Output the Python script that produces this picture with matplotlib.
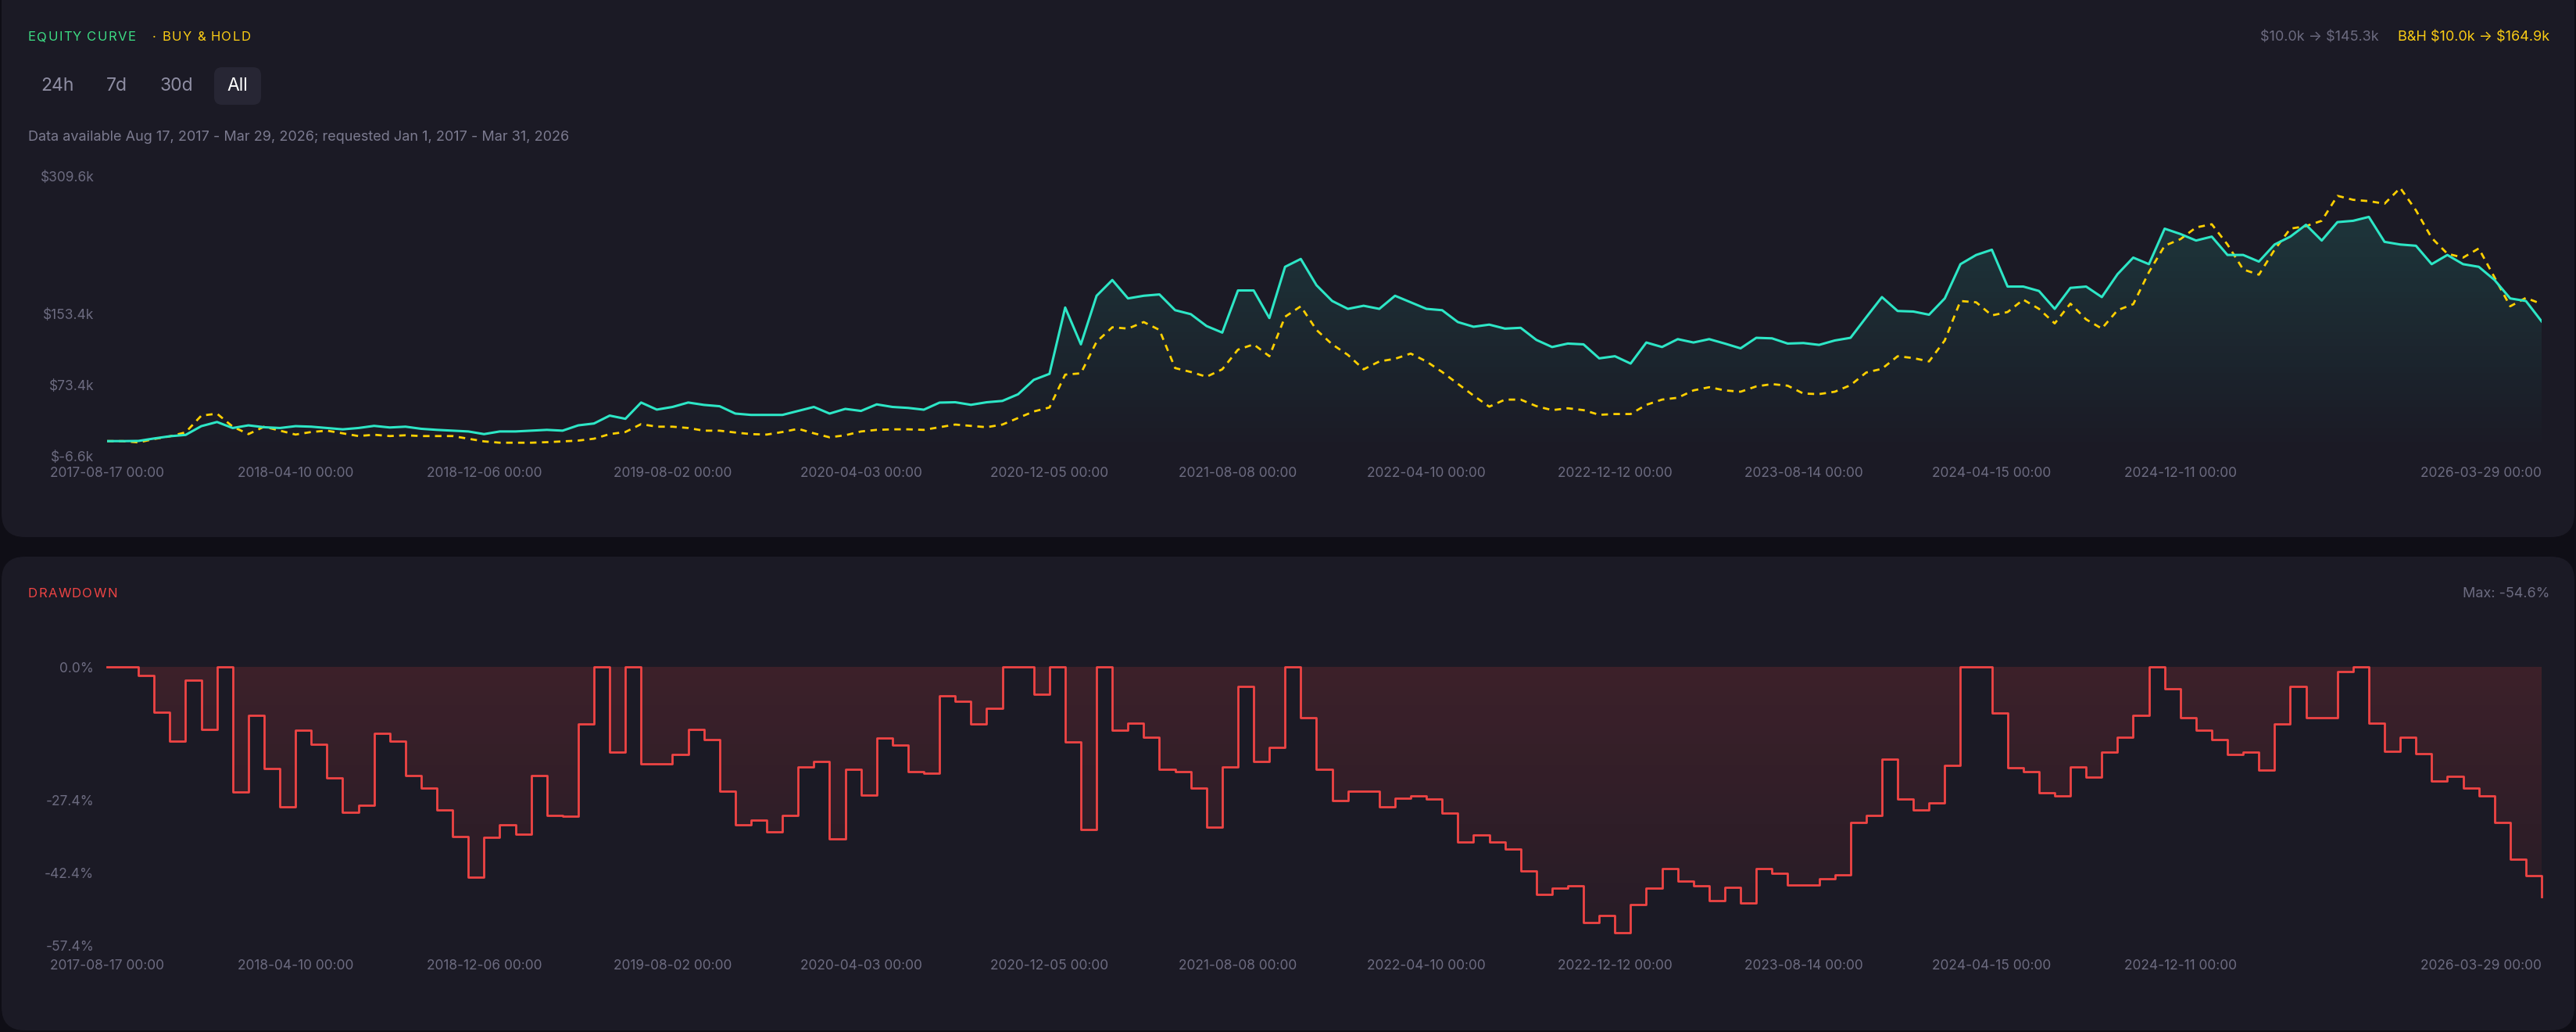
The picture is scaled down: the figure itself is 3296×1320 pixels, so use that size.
import numpy as np
import matplotlib.pyplot as plt
from matplotlib.patches import FancyBboxPatch

plt.rcParams['font.family'] = ['Inter', 'DejaVu Sans']

# x labels shown under both panels (every 12th sample, plus the last one)
tick_dates = ['2017-08-17 00:00', '2018-04-10 00:00', '2018-12-06 00:00', '2019-08-02 00:00',
              '2020-04-03 00:00', '2020-12-05 00:00', '2021-08-08 00:00', '2022-04-10 00:00',
              '2022-12-12 00:00', '2023-08-14 00:00', '2024-04-15 00:00', '2024-12-11 00:00',
              '2026-03-29 00:00']

# strategy equity, thousands of $
equity_k = [10.0, 10.0, 10.2, 13.0, 15.5, 17.0, 26.9, 31.6, 24.8, 27.8,
            25.7, 24.8, 26.9, 26.3, 24.8, 23.3, 24.8, 27.2, 25.4, 26.3,
            23.9, 22.7, 21.8, 20.9, 17.9, 20.9, 20.9, 21.8, 22.7, 21.8,
            27.8, 29.9, 38.8, 35.2, 53.6, 45.6, 48.6, 53.6, 50.9, 49.4,
            41.1, 39.6, 39.6, 39.6, 44.1, 48.6, 41.1, 46.4, 44.1, 51.5,
            48.6, 47.5, 45.5, 53.5, 53.9, 51.0, 53.9, 55.4, 62.9, 79.2,
            86.0, 160.9, 119.3, 174.2, 192.0, 171.2, 174.2, 175.7, 157.9, 153.4,
            140.0, 132.6, 180.2, 180.2, 149.0, 206.9, 215.8, 186.1, 168.3, 159.4,
            162.9, 159.4, 174.2, 166.8, 159.4, 157.9, 144.5, 139.2, 141.6, 137.1,
            138.0, 124.3, 116.3, 120.2, 119.3, 103.5, 105.9, 97.6, 121.4, 116.3,
            125.2, 121.4, 125.2, 120.2, 114.8, 126.7, 126.1, 120.2, 120.8, 118.7,
            123.7, 126.7, 149.9, 172.7, 157.0, 156.4, 152.8, 171.2, 209.9, 220.3,
            226.2, 184.6, 184.6, 179.6, 159.4, 183.1, 184.6, 172.7, 198.6, 217.3,
            209.9, 250.0, 244.0, 236.6, 241.0, 220.3, 220.3, 212.8, 232.1, 241.0,
            254.4, 236.6, 257.4, 258.9, 263.3, 235.1, 232.1, 230.7, 209.9, 220.3,
            209.9, 206.9, 192.1, 171.2, 168.3, 145.3]

# buy & hold, thousands of $
buyhold_k = [10.0, 10.0, 8.5, 12.4, 15.4, 19.9, 38.8, 41.0, 26.3, 17.9,
             26.3, 21.8, 17.4, 20.3, 21.8, 18.8, 15.7, 17.2, 15.7, 16.6,
             15.7, 15.7, 15.7, 12.7, 9.7, 8.2, 8.2, 8.2, 8.8, 9.7,
             10.6, 12.7, 17.9, 20.3, 29.2, 26.3, 26.3, 24.8, 21.8, 21.8,
             19.7, 17.9, 17.4, 20.3, 23.9, 18.8, 14.3, 16.6, 20.9, 22.7,
             23.3, 23.3, 22.7, 25.7, 28.7, 27.2, 25.7, 28.7, 36.1, 43.5,
             48.0, 85.1, 86.6, 122.2, 138.6, 137.1, 144.5, 135.6, 92.5, 88.1,
             82.7, 91.1, 113.3, 119.3, 105.9, 150.5, 162.3, 135.6, 119.3, 107.4,
             91.1, 100.0, 103.0, 108.9, 100.0, 88.1, 74.7, 61.4, 48.9, 56.9,
             56.9, 49.5, 45.0, 47.1, 45.0, 39.7, 40.6, 40.6, 51.0, 56.9,
             59.0, 67.3, 70.9, 67.3, 65.8, 71.8, 74.4, 72.6, 63.7, 63.1,
             65.8, 73.2, 87.5, 91.7, 105.9, 103.8, 100.0, 123.7, 168.3, 166.8,
             152.0, 155.8, 169.8, 159.4, 143.0, 165.3, 147.5, 137.1, 157.9, 164.7,
             200.9, 230.7, 238.1, 251.4, 255.0, 232.1, 203.9, 198.0, 226.2, 250.0,
             252.9, 258.9, 287.1, 282.6, 281.1, 278.2, 296.0, 270.7, 239.6, 221.7,
             217.3, 227.7, 195.0, 162.3, 171.8, 164.9]

# drawdown of the strategy, percent
drawdown_pct = [0.0, 0.0, -1.7, -9.4, -15.3, -2.7, -12.8, 0.0, -25.8, -9.9,
                -20.9, -28.7, -13.0, -15.9, -22.9, -29.9, -28.5, -13.6, -15.2, -22.4,
                -25.0, -29.4, -34.9, -43.2, -35.0, -32.5, -34.4, -22.4, -30.6, -30.7,
                -11.8, 0.0, -17.6, 0.0, -20.0, -20.0, -18.0, -12.8, -15.0, -25.5,
                -32.5, -31.5, -34.0, -30.5, -20.5, -19.5, -35.4, -21.0, -26.4, -14.7,
                -16.0, -21.5, -21.9, -6.0, -7.0, -11.7, -8.6, 0.0, 0.0, -5.6,
                0.0, -15.5, -33.4, 0.0, -13.0, -11.5, -14.5, -21.0, -21.5, -25.0,
                -33.0, -20.5, -4.0, -19.5, -16.5, 0.0, -10.5, -21.0, -27.5, -25.5,
                -25.5, -28.8, -27.0, -26.6, -27.1, -30.0, -36.0, -34.5, -36.0, -37.5,
                -42.0, -46.8, -45.5, -45.0, -52.5, -51.2, -54.6, -48.8, -45.5, -41.5,
                -44.0, -45.0, -48.1, -45.3, -48.5, -41.5, -42.5, -44.8, -44.8, -43.5,
                -42.8, -32.0, -30.6, -19.0, -27.2, -29.5, -28.0, -20.2, 0.0, 0.0,
                -9.5, -20.7, -21.5, -25.9, -26.5, -20.5, -22.7, -17.5, -14.5, -10.0,
                0.0, -4.5, -10.5, -13.0, -15.0, -18.0, -17.5, -21.2, -11.8, -4.0,
                -10.5, -10.5, -1.0, 0.0, -11.5, -17.3, -14.5, -17.8, -23.5, -22.5,
                -25.0, -26.5, -32.0, -39.5, -43.0, -47.3]

eq_ticks = [-6.6, 73.4, 153.4, 309.6]
dd_ticks = [0.0, -27.4, -42.4, -57.4]

BG = '#0f0e16'
CARD = '#1b1a25'
MUTED = '#6c6b80'
TEAL = '#2de6c6'
GOLD = '#facc15'
RED = '#ef4444'

W, H = 3296, 1320
fig = plt.figure(figsize=(W / 100, H / 100), dpi=100)
fig.patch.set_facecolor(BG)
renderer = fig.canvas.get_renderer()

# background layer in pixel coordinates (y down)
bg = fig.add_axes([0, 0, 1, 1])
bg.set_xlim(0, W)
bg.set_ylim(H, 0)
bg.axis('off')
for y0, y1 in [(-40, 687), (712, 1318)]:
    bg.add_patch(FancyBboxPatch((2, y0), W - 4, y1 - y0,
                                boxstyle='round,pad=0,rounding_size=30',
                                fc=CARD, ec='none'))


def spaced(x, y, s, spacing, **kw):
    # uppercase headings are letter-spaced in the dashboard
    for ch in s:
        if ch == ' ':
            x += kw['fontsize'] * 100 / 72 * 0.28 + spacing
            continue
        t = bg.text(x, y, ch, va='center', **kw)
        x += t.get_window_extent(renderer).width + spacing


spaced(36, 48, 'EQUITY CURVE', 1.3, color='#3ddc84', fontsize=12)
spaced(195, 48, '· BUY & HOLD', 1.3, color=GOLD, fontsize=12)
bg.text(3262, 48, r'B&H \$10.0k → \$164.9k', color=GOLD, fontsize=13, va='center', ha='right')
bg.text(3044, 48, r'\$10.0k → \$145.3k', color=MUTED, fontsize=13, va='center', ha='right')

bg.add_patch(FancyBboxPatch((274, 86), 60, 48, boxstyle='round,pad=0,rounding_size=10',
                            fc='#272634', ec='none'))
for label, xc in [('24h', 73), ('7d', 149), ('30d', 226), ('All', 304)]:
    bg.text(xc, 110, label, color='white' if label == 'All' else '#8e8da2',
            fontsize=16.5, va='center', ha='center')

bg.text(36, 175, 'Data available Aug 17, 2017 - Mar 29, 2026; requested Jan 1, 2017 - Mar 31, 2026',
        color='#7b7a8f', fontsize=13, va='center')

spaced(36, 760, 'DRAWDOWN', 1.3, color=RED, fontsize=12)
bg.text(3262, 760, 'Max: -54.6%', color=MUTED, fontsize=13, va='center', ha='right')


def panel(y_top, y_bot):
    ax = fig.add_axes([137 / W, 1 - y_bot / H, (3252 - 137) / W, (y_bot - y_top) / H])
    ax.patch.set_alpha(0)
    for s in ax.spines.values():
        s.set_visible(False)
    ax.tick_params(length=0, colors=MUTED, labelsize=12.5)
    return ax


n = len(equity_k)
x = np.arange(n)
tick_pos = list(range(0, 12 * (len(tick_dates) - 1), 12)) + [n - 1]


def set_xlabels(ax, pad):
    ax.set_xticks(tick_pos)
    ax.set_xticklabels(tick_dates)
    ax.tick_params(axis='x', pad=pad)
    ax.get_xticklabels()[-1].set_ha('right')


def gradient_fill(ax, poly, rgb, a_top, a_bot, y0, y1):
    grad = np.zeros((256, 1, 4))
    grad[..., :3] = rgb
    grad[..., 3] = np.linspace(a_top, a_bot, 256)[:, None]
    im = ax.imshow(grad, extent=[0, n - 1, y0, y1], origin='upper', aspect='auto', zorder=1)
    im.set_clip_path(poly.get_paths()[0], transform=ax.transData)


# equity panel
ax1 = panel(225, 583)
ax1.set_xlim(0, n - 1)
ax1.set_ylim(-6.6, 309.6)
poly = ax1.fill_between(x, equity_k, 0, color='none')
gradient_fill(ax1, poly, (0.18, 0.90, 0.78), 0.16, 0.0, -6.6, 309.6)
ax1.plot(x, buyhold_k, color='#ffd000', lw=2, dashes=(3, 2.5), zorder=3)
ax1.plot(x, equity_k, color=TEAL, lw=2.2, zorder=4)
ax1.set_yticks(eq_ticks)
ax1.set_yticklabels([rf'\${v:.1f}k' for v in eq_ticks])
ax1.tick_params(axis='y', pad=12)
set_xlabels(ax1, 10)

# drawdown panel
ax2 = panel(853, 1210)
ax2.set_xlim(0, n - 1)
ax2.set_ylim(-57.4, 0)
poly = ax2.fill_between(x, drawdown_pct, 0, step='post', color='none')
gradient_fill(ax2, poly, (0.94, 0.27, 0.27), 0.16, 0.05, -57.4, 0)
ax2.plot(x, drawdown_pct, color=RED, lw=2, drawstyle='steps-post', zorder=4, clip_on=False)
ax2.set_yticks(dd_ticks)
ax2.set_yticklabels([f'{v:.1f}%' for v in dd_ticks])
ax2.tick_params(axis='y', pad=12)
set_xlabels(ax2, 12)

fig.savefig('out.png', dpi=100, facecolor=BG)
